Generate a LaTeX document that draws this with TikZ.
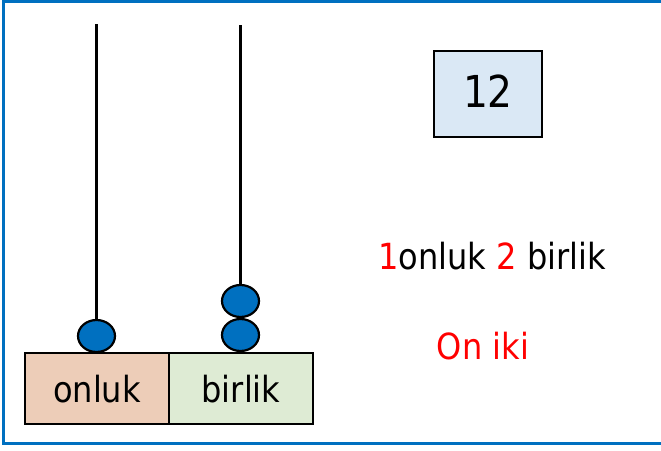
\documentclass[tikz,border=0pt]{standalone}
\usepackage{fontspec}
\setmainfont{DejaVu Sans}[FakeStretch=0.89]
\usetikzlibrary{shapes.geometric}
\definecolor{framecol}{RGB}{0,112,192}
\definecolor{beadcol}{RGB}{0,112,192}
\definecolor{onlukfill}{RGB}{237,205,184}
\definecolor{birlikfill}{RGB}{222,235,212}
\definecolor{numfill}{RGB}{218,232,245}
\definecolor{redtxt}{RGB}{255,0,0}
\begin{document}
\begin{tikzpicture}[x=1pt,y=-1pt,
  placebox/.style={draw=black, line width=2.7pt, minimum width=144pt, minimum height=71pt, inner sep=0pt, text depth=0pt, font=\fontsize{36}{42}\selectfont},
  bead/.style={ellipse, draw=black, line width=2.2pt, fill=beadcol, minimum width=37pt, minimum height=32pt, inner sep=0pt},
  pole/.style={line width=3pt, black},
  bigtxt/.style={font=\fontsize{36}{42}\selectfont, inner sep=0pt, anchor=base}]
\useasboundingbox (0,0) rectangle (661,450);
\begin{scope}
\clip (0,0) rectangle (661,450);
\draw[framecol, line width=3pt] (3.3,1) rectangle (667,443.5);
\end{scope}
% place boxes
\node[placebox, fill=onlukfill] (onluk) at (97,388.5) {onluk};
\node[placebox, fill=birlikfill] (birlik) at (241,388.5) {birlik};
% beads
\node[bead] (b1) at (96.5,336) {};
\node[bead] (b2) at (240.5,335) {};
\node[bead] (b3) at (240.5,301) {};
% poles
\coordinate (p1) at (96.5,24);
\coordinate (p2) at (240.5,25);
\draw[pole] (p1) -- (b1.north);
\draw[pole] (p2) -- (b3.north);
% number box
\node[draw=black, line width=2.7pt, fill=numfill, minimum width=108pt, minimum height=86pt, inner sep=0pt, text depth=6pt, font=\fontsize{44}{50}\selectfont] (num) at (488,94) {12};
% texts
\node[bigtxt] (desc) at (492,269) {\textcolor{redtxt}{1}onluk \textcolor{redtxt}{2} birlik};
\node[bigtxt, text=redtxt] (name) at (483,359) {On iki};
\end{tikzpicture}
\end{document}
